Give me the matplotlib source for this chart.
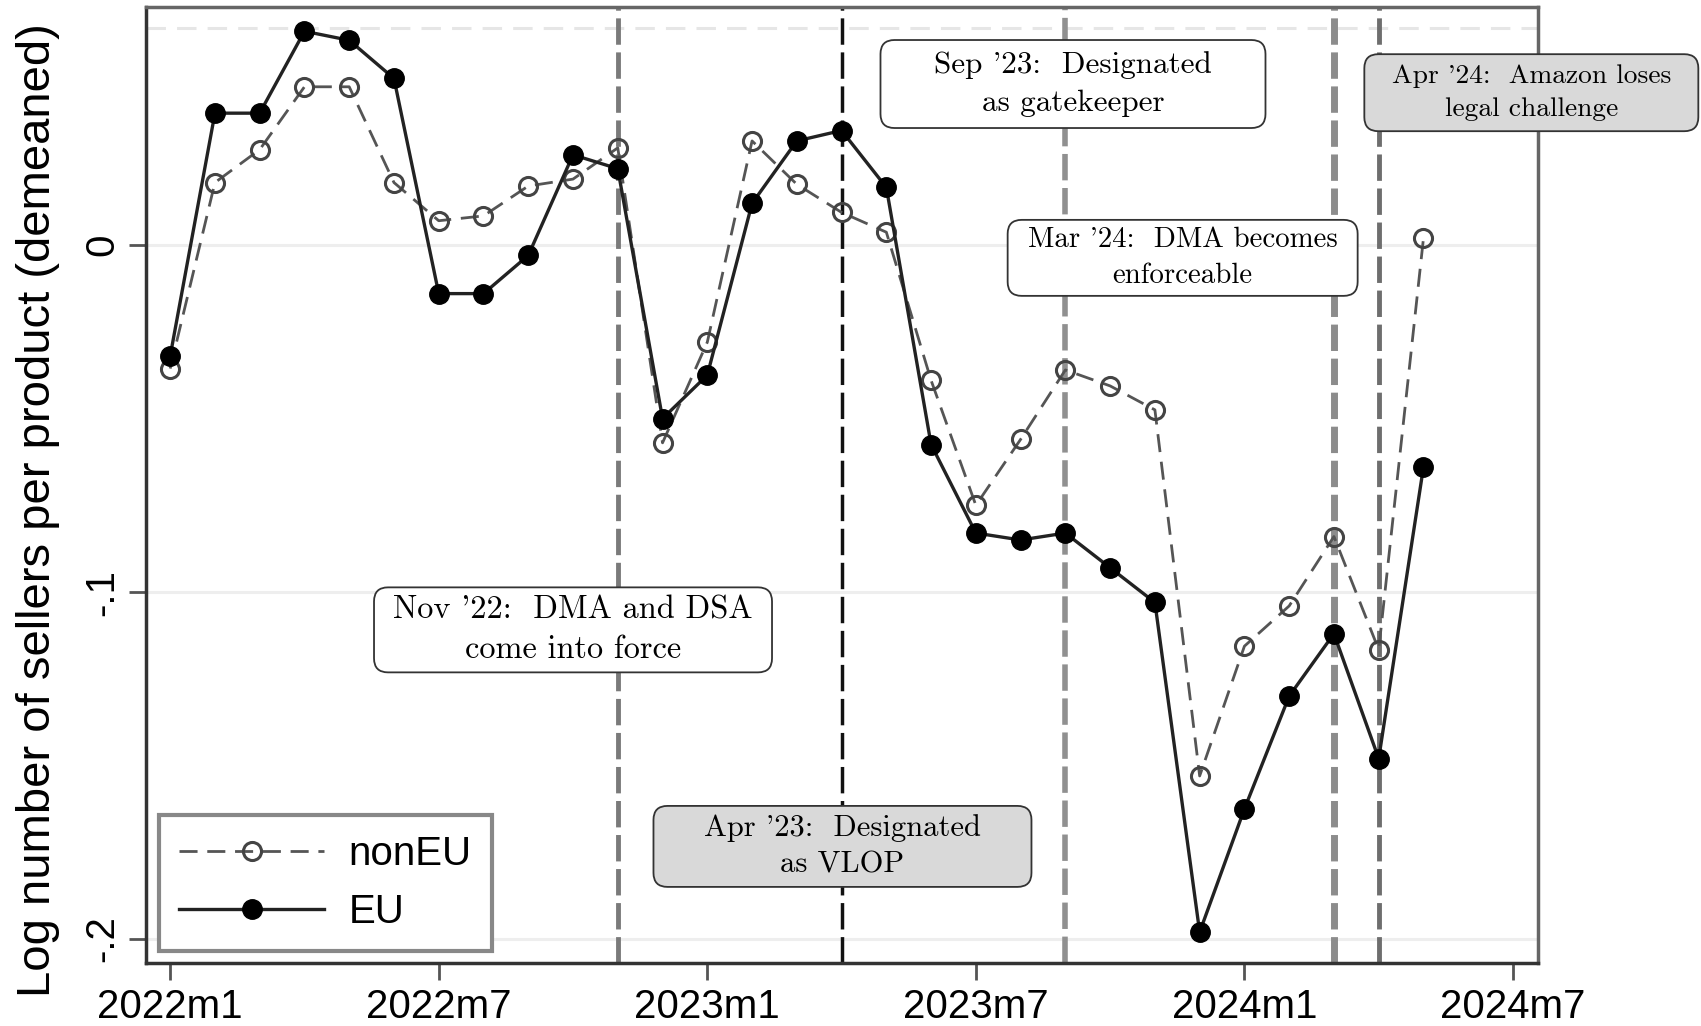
import matplotlib
matplotlib.use("Agg")
import matplotlib.pyplot as plt
from matplotlib.patches import FancyBboxPatch
from matplotlib.transforms import IdentityTransform
import numpy as np

plt.rcParams['lines.scale_dashes'] = False

# months since 2022m1
months = np.arange(29)

eu = [-0.032, 0.038, 0.038, 0.0616, 0.059, 0.048, -0.014, -0.014, -0.003, 0.026,
      0.022, -0.050, -0.0375, 0.012, 0.030, 0.033, 0.0166, -0.0575, -0.083, -0.085,
      -0.083, -0.093, -0.103, -0.198, -0.1625, -0.130, -0.112, -0.148, -0.064]

non_eu = [-0.0356, 0.018, 0.0275, 0.0456, 0.0456, 0.018, 0.007, 0.0084, 0.017, 0.019,
          0.028, -0.057, -0.028, 0.030, 0.0175, 0.0094, 0.0037, -0.039, -0.075, -0.056,
          -0.036, -0.0406, -0.0475, -0.153, -0.1156, -0.104, -0.084, -0.1166, 0.0019]

tick_months = [0, 6, 12, 18, 24, 30]
tick_labels = ["2022m1", "2022m7", "2023m1", "2023m7", "2024m1", "2024m7"]

# events: month, colour, width
event_months = [10, 15, 20, 26, 27]
event_colors = ["#7a7a7a", "#111111", "#909090", "#8c8c8c", "#6e6e6e"]
event_widths = [3.5, 2.5, 4.0, 5.0, 3.5]

# text, position (month, value), box size in pixels, fill, font size
notes = [
    ("Nov '22:  DMA and DSA\ncome into force", 9.0, -0.1109, 398, 85, "white", 23.3),
    ("Apr '23:  Designated\nas VLOP", 15.02, -0.1733, 378, 81, "#d9d9d9", 22),
    ("Sep '23:  Designated\nas gatekeeper", 20.17, 0.0464, 385, 88, "white", 22.4),
    ("Mar '24:  DMA becomes\nenforceable", 22.62, -0.0037, 350, 76, "white", 20.8),
    ("Apr '24:  Amazon loses\nlegal challenge", 30.41, 0.0439, 334, 77, "#d9d9d9", 19.8),
]

fig = plt.figure(figsize=(17.01, 10.26), dpi=100)
ax = fig.add_axes([0.0861, 0.0614, 0.9042 - 0.0861, 0.9932 - 0.0614])
ax.set_xlim(-0.53, 30.56)
ax.set_ylim(-0.2069, 0.0686)

# grid lines
for yv in [0, -0.1, -0.2]:
    ax.axhline(yv, color="#eeeeee", lw=2.2, zorder=0)
ax.axhline(0.0625, color="#e6e6e6", lw=2.2, dashes=(14, 8), zorder=0)

# event lines
for m, c, w in zip(event_months, event_colors, event_widths):
    ax.axvline(m, color=c, lw=w, dashes=(19, 5.5), zorder=1)

ax.plot(months, non_eu, color="#555555", lw=2.0, dashes=(13, 7),
        marker="o", markersize=13, markerfacecolor="none",
        markeredgecolor="#444444", markeredgewidth=2.2, label="nonEU", zorder=3)
ax.plot(months, eu, color="#222222", lw=2.4,
        marker="o", markersize=14, markerfacecolor="black",
        markeredgecolor="black", label="EU", zorder=4)

for txt, x, y, w, h, fc, fs in notes:
    cx, cy = ax.transData.transform((x, y))
    box = FancyBboxPatch((cx - w / 2, cy - h / 2), w, h,
                         boxstyle="round,pad=0,rounding_size=14",
                         fc=fc, ec="#333333", lw=1.3,
                         transform=IdentityTransform(), zorder=6, clip_on=False)
    ax.add_patch(box)
    ax.text(x, y, txt, ha="center", va="center", multialignment="center",
            family=["cmr10", "DejaVu Serif"], fontsize=fs, linespacing=1.45,
            zorder=7, clip_on=False)

ax.set_xticks(tick_months)
ax.set_xticklabels(tick_labels, family="Liberation Sans", fontsize=29)
ax.set_yticks([0, -0.1, -0.2])
ax.set_yticklabels(["0", "-.1", "-.2"], family="Liberation Sans", fontsize=29,
                   rotation=90, va="center")
ax.tick_params(axis="both", length=12, width=2, color="#555555")
ax.tick_params(axis="x", pad=6)
ax.tick_params(axis="y", pad=6)

ax.set_ylabel("Log number of sellers per product (demeaned)",
              family="Liberation Sans", fontsize=34, va="center")
ax.yaxis.set_label_coords(-0.0781, 0.474)

for side in ["left", "bottom"]:
    ax.spines[side].set_color("#333333")
    ax.spines[side].set_linewidth(2.5)
for side in ["top", "right"]:
    ax.spines[side].set_color("#666666")
    ax.spines[side].set_linewidth(2.5)

leg = ax.legend(loc="lower left", bbox_to_anchor=(0.009, 0.0126), borderaxespad=0,
                fancybox=False, edgecolor="#888888", framealpha=1,
                prop={"family": "Liberation Sans", "size": 29},
                handlelength=3.6, handletextpad=0.6, borderpad=0.5, labelspacing=0.5)
leg.get_frame().set_linewidth(3)

fig.savefig("out.png", dpi=100)
